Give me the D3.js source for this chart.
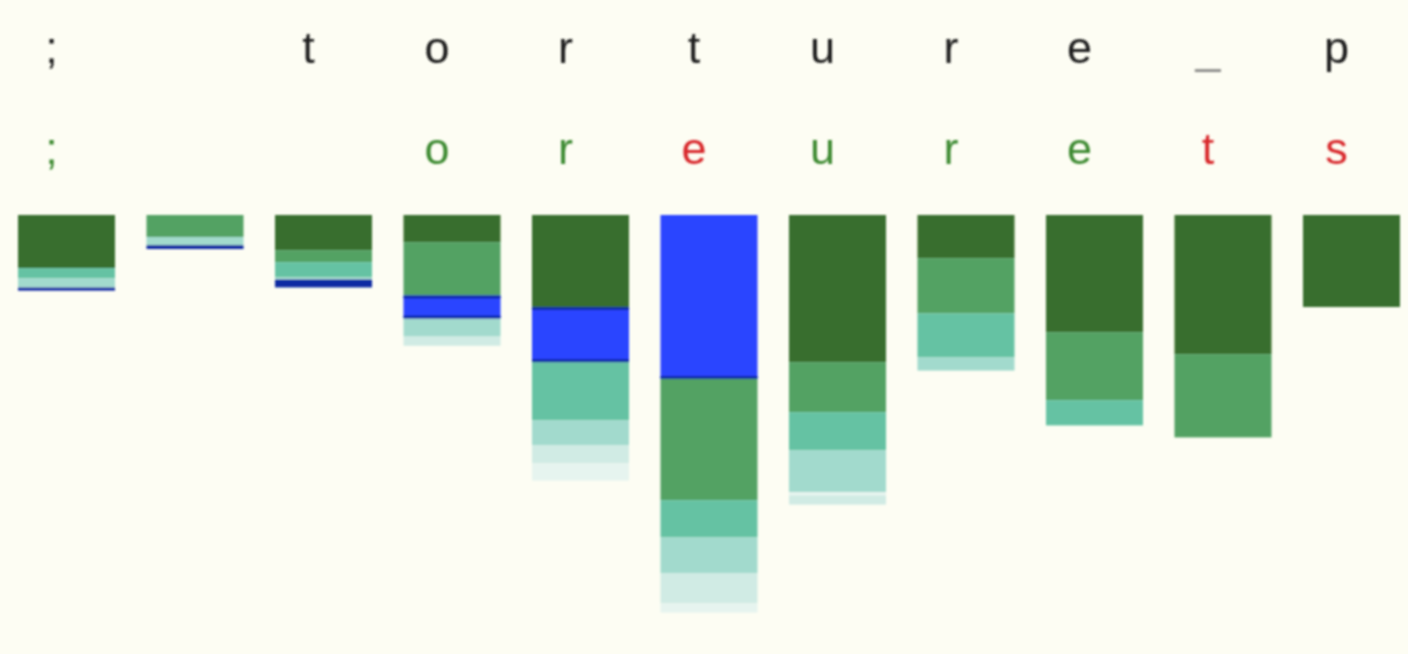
<!DOCTYPE html>
<html>
<head>
<meta charset="utf-8">
<script src="https://cdn.jsdelivr.net/npm/d3@7"></script>
<style>
  html, body { margin: 0; padding: 0; background: #fdfdf3; }
  svg { display: block; }
</style>
</head>
<body>
<svg id="chart" width="1408" height="654"></svg>
<script>
// ---- data ----
const inputChars = [";", " ", "t", "o", "r", "t", "u", "r", "e", "_", "p"];
const predChars  = [";", " ", " ", "o", "r", "e", "u", "r", "e", "t", "s"];
const predCorrect = [true, true, true, true, true, false, true, true, true, false, false];

// stacked segment values (probability mass) per column, top to bottom
const segValues = [
  [0.133, 0.025, 0.023, 0.008],
  [0.055, 0.020, 0.010],
  [0.088, 0.030, 0.038, 0.005, 0.020],
  [0.068, 0.133, 0.058, 0.045, 0.023],
  [0.230, 0.138, 0.145, 0.063, 0.045, 0.043],
  [0.410, 0.303, 0.093, 0.090, 0.075, 0.023],
  [0.368, 0.125, 0.095, 0.105, 0.008, 0.023],
  [0.108, 0.138, 0.110, 0.033],
  [0.293, 0.170, 0.063],
  [0.348, 0.208],
  [0.230]
];
// segment kind per value: 0..5 = green shades (dark -> faint), "B" = blue (target)
const segKinds = [
  [0, 2, 3, "B"],
  [1, 3, "B"],
  [0, 1, 2, 3, "B"],
  [0, 1, "B", 3, 4],
  [0, "B", 2, 3, 4, 5],
  ["B", 1, 2, 3, 4, 5],
  [0, 1, 2, 3, 5, 4],
  [0, 1, 2, 3],
  [0, 1, 2],
  [0, 1],
  [0]
];

// ---- styles ----
const kindColor = {
  0: "#386e2e", 1: "#52a263", 2: "#65c2a3", 3: "#a2dacd", 4: "#d0ebe4", 5: "#e6f4ef",
  "B": "#2b44ff"
};
const blueEdge = "#0c2aa3";

const svg = d3.select("#chart");
const defs = svg.append("defs");
defs.append("filter").attr("id", "soft")
  .attr("x", "-5%").attr("y", "-5%").attr("width", "110%").attr("height", "110%")
  .append("feGaussianBlur").attr("stdDeviation", 0.8);

const root = svg.append("g").attr("filter", "url(#soft)");

const x = d3.scaleBand()
  .domain(d3.range(inputChars.length))
  .range([18, 1400])
  .paddingInner(0.245)
  .paddingOuter(0);

const barTop = 215;
const y = d3.scaleLinear().domain([0, 1]).range([0, 400]);

// build stacked segments
const segs = [];
segValues.forEach((vals, ci) => {
  let acc = 0;
  vals.forEach((v, si) => {
    segs.push({ col: ci, idx: si, v0: acc, v1: acc + v, kind: segKinds[ci][si], n: vals.length });
    acc += v;
  });
});

const segH = d => y(d.v1) - y(d.v0);
const bars = root.append("g");
bars.selectAll("rect.seg")
  .data(segs)
  .join("rect")
  .attr("class", "seg")
  .attr("x", d => x(d.col))
  .attr("width", x.bandwidth())
  .attr("y", d => barTop + y(d.v0))
  .attr("height", segH)
  .attr("fill", d => d.kind === "B" && segH(d) < 10 ? blueEdge : kindColor[d.kind]);

// dark edges on larger blue segments
const blues = segs.filter(d => d.kind === "B" && segH(d) >= 10);
const edgeW = 3;
bars.selectAll("rect.edgeB")
  .data(blues)
  .join("rect")
  .attr("class", "edgeB")
  .attr("x", d => x(d.col))
  .attr("width", x.bandwidth())
  .attr("y", d => barTop + y(d.v1) - edgeW)
  .attr("height", edgeW)
  .attr("fill", blueEdge);
bars.selectAll("rect.edgeT")
  .data(blues.filter(d => d.idx > 0))
  .join("rect")
  .attr("class", "edgeT")
  .attr("x", d => x(d.col))
  .attr("width", x.bandwidth())
  .attr("y", d => barTop + y(d.v0))
  .attr("height", edgeW)
  .attr("fill", blueEdge);

// ---- text rows ----
const textX = i => x(i) + x.bandwidth() / 2 - 15;
const font = "'Liberation Sans', Arial, Helvetica, sans-serif";

root.append("g").selectAll("text")
  .data(inputChars)
  .join("text")
  .attr("x", (d, i) => textX(i))
  .attr("y", 63)
  .attr("text-anchor", "middle")
  .attr("font-family", font)
  .attr("font-size", 45)
  .attr("fill", d => d === "_" ? "#8a8a88" : "#1c1c1c")
  .text(d => d);

root.append("g").selectAll("text")
  .data(predChars)
  .join("text")
  .attr("x", (d, i) => textX(i))
  .attr("y", 164)
  .attr("text-anchor", "middle")
  .attr("font-family", font)
  .attr("font-size", 45)
  .attr("fill", (d, i) => predCorrect[i] ? "#3c8a30" : "#d8262a")
  .text(d => d);
</script>
</body>
</html>
